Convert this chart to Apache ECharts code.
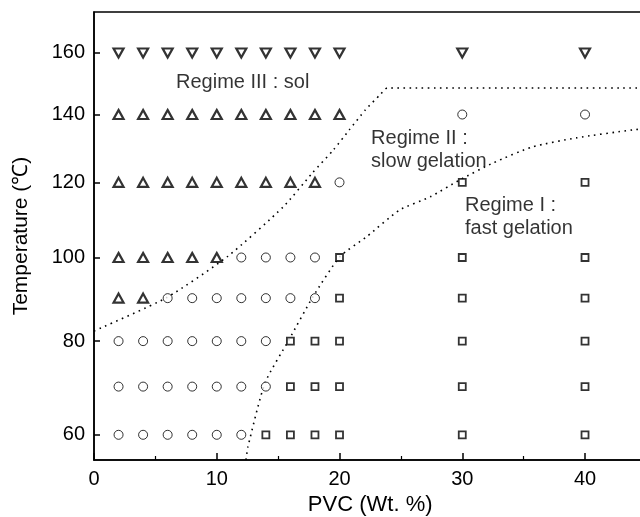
<!DOCTYPE html>
<html>
<head>
<meta charset="utf-8">
<script src="https://cdn.jsdelivr.net/npm/echarts@6/dist/echarts.min.js"></script>
<style>
html,body{margin:0;padding:0;background:#fff;}
#main{width:640px;height:517px;}
</style>
</head>
<body>
<div id="main"></div>
<script>
// ---- data (x = PVC wt.%, T = temperature in °C) ----
const solDown = [[2,160],[4,160],[6,160],[8,160],[10,160],[12,160],[14,160],[16,160],[18,160],[20,160],[30,160],[40,160]];
const solUp = [
  [2,140],[4,140],[6,140],[8,140],[10,140],[12,140],[14,140],[16,140],[18,140],[20,140],
  [2,120],[4,120],[6,120],[8,120],[10,120],[12,120],[14,120],[16,120],[18,120],
  [2,100],[4,100],[6,100],[8,100],[10,100],
  [2,90],[4,90]
];
const slowGel = [
  [30,140],[40,140],
  [20,120],
  [12,100],[14,100],[16,100],[18,100],
  [6,90],[8,90],[10,90],[12,90],[14,90],[16,90],[18,90],
  [2,80],[4,80],[6,80],[8,80],[10,80],[12,80],[14,80],
  [2,70],[4,70],[6,70],[8,70],[10,70],[12,70],[14,70],
  [2,60],[4,60],[6,60],[8,60],[10,60],[12,60]
];
const fastGel = [
  [30,120],[40,120],
  [20,100],[30,100],[40,100],
  [20,90],[30,90],[40,90],
  [16,80],[18,80],[20,80],[30,80],[40,80],
  [16,70],[18,70],[20,70],[30,70],[40,70],
  [14,60],[16,60],[18,60],[20,60],[30,60],[40,60]
];
const boundarySol = [[0,82.3],[5.9,90.1],[10.9,100.3],[15.4,113.2],[17.8,122.7],[19.5,129.3],[20.8,135.3],[22.1,141.4],[23.3,146.2],[23.9,148.4],[46,148.4]];
const boundaryFast = [[12.38,55.0],[12.54,57.6],[13.93,70.8],[15.88,80.3],[17.83,90.3],[20.03,100.2],[22.2,105.3],[24.9,112.4],[27.4,116.0],[29.8,120.7],[32.5,125.5],[35.7,130.2],[39.3,132.9],[43.9,135.3],[46,136.0]];
const yTicks = [60,80,100,120,140,160];
const notes = [
  {x:6.68, T:150.3, text:'Regime III : sol'},
  {x:22.57, T:129.3, text:'Regime II :\nslow gelation'},
  {x:30.22, T:110.4, text:'Regime I :\nfast gelation'}
];
const xRange = [0, 45];
const TRange = [55.0, 174.4];

// reciprocal absolute temperature scale
const toU = T => -1000 / (T + 273.15);
const fromU = u => -1000 / u - 273.15;
const conv = arr => arr.map(p => [p[0], toU(p[1])]);

const FONT = 'Liberation Sans, Arial, Helvetica, sans-serif';
const chart = echarts.init(document.getElementById('main'));

const markerBase = {type:'scatter', silent:true, z:3};
chart.setOption({
  animation:false,
  backgroundColor:'#fff',
  grid:{left:94, top:12, bottom:57, right:-6.4, outerBoundsMode:'none', containLabel:false,
        show:true, borderColor:'#000', borderWidth:1.5, backgroundColor:'transparent'},
  xAxis:{
    type:'value', min:xRange[0], max:xRange[1], interval:10,
    name:'PVC (Wt. %)', nameLocation:'middle', nameGap:33,
    nameTextStyle:{fontFamily:FONT, fontSize:22, color:'#000'},
    axisLine:{show:true, lineStyle:{color:'#000', width:1.5}},
    axisTick:{show:true, inside:true, length:7, lineStyle:{color:'#000', width:1.5}},
    minorTick:{show:true, splitNumber:2, length:4, lineStyle:{color:'#000', width:1.2}},
    axisLabel:{fontFamily:FONT, fontSize:20, color:'#000', margin:9, showMaxLabel:false},
    splitLine:{show:false}
  },
  yAxis:{
    type:'value', min:toU(TRange[0]), max:toU(TRange[1]),
    name:'Temperature (℃)', nameLocation:'middle', nameGap:62, nameRotate:90,
    nameTextStyle:{fontFamily:FONT, fontSize:21, color:'#000'},
    axisLine:{show:true, lineStyle:{color:'#000', width:1.5}},
    axisTick:{show:true, inside:true, length:6, customValues:yTicks.map(toU), lineStyle:{color:'#000', width:1.5}},
    axisLabel:{fontFamily:FONT, fontSize:20, color:'#000', margin:9,
      customValues:yTicks.map(toU), formatter:v => String(Math.round(fromU(v)))},
    splitLine:{show:false}
  },
  series:[
    {type:'line', data:conv(boundarySol), smooth:0.2, symbol:'none', silent:true, z:2,
     lineStyle:{color:'#000', width:1.6, type:[1.6,4.5]}},
    {type:'line', data:conv(boundaryFast), smooth:0.2, symbol:'none', silent:true, z:2,
     lineStyle:{color:'#000', width:1.6, type:[1.6,4.5]}},
    Object.assign({}, markerBase, {data:conv(solDown), symbol:'triangle', symbolRotate:180, symbolSize:[10,9],
      itemStyle:{color:'#fff', borderColor:'#000', borderWidth:2.2}}),
    Object.assign({}, markerBase, {data:conv(solUp), symbol:'triangle', symbolSize:[10,9],
      itemStyle:{color:'#fff', borderColor:'#000', borderWidth:2.2}}),
    Object.assign({}, markerBase, {data:conv(slowGel), symbol:'circle', symbolSize:9,
      itemStyle:{color:'#fff', borderColor:'#000', borderWidth:1}}),
    Object.assign({}, markerBase, {data:conv(fastGel), symbol:'rect', symbolSize:7,
      itemStyle:{color:'#fff', borderColor:'#000', borderWidth:1.8}}),
    {type:'scatter', silent:true, z:4, symbolSize:0,
     data:notes.map(n => ({value:[n.x, toU(n.T)], label:{formatter:n.text}})),
     label:{show:true, position:'right', distance:0, align:'left', verticalAlign:'middle',
       fontFamily:FONT, fontSize:20, color:'#000', lineHeight:23}}
  ]
});
</script>
</body>
</html>
